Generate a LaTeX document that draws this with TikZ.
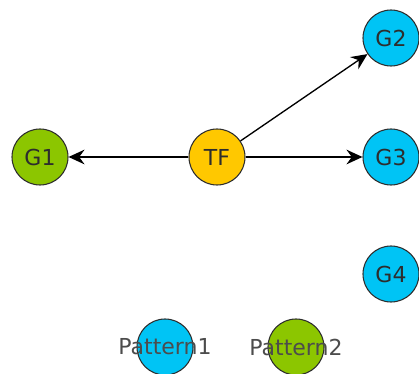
\documentclass[tikz,border=0pt]{standalone}
\usepackage{fontspec}
\setmainfont{DejaVu Sans}
\definecolor{leafgreen}{RGB}{140,198,0}
\definecolor{skycyan}{RGB}{0,196,245}
\definecolor{sunyellow}{RGB}{255,200,0}
\definecolor{rimgray}{RGB}{45,45,45}
\usetikzlibrary{
    arrows.meta,
    positioning
}
\tikzstyle{state} = [
    circle,
    draw=rimgray,
    line width=0.8pt,
    minimum size=42pt,
    inner sep=0pt,
    text=rimgray,
    font=\fontsize{16.5}{19}\selectfont
]
\tikzstyle{arrow} = [
    -{Stealth[length=12pt,width=11pt,inset=4pt]},
    line width=1pt,
    draw=black
]

\begin{document}
\begin{tikzpicture}[x=0.75pt, y=-0.75pt, node distance=130.5pt, on grid]
    \useasboundingbox (0,0) rectangle (419,374);

    % Centre and targets
    \node[state, fill=sunyellow] (tf) at (217,157) {TF};
    \node[state, fill=leafgreen, left=132.75pt of tf] (g1) {G1};
    \node[state, fill=skycyan, right=of tf] (g3) {G3};
    \node[state, fill=skycyan, above=89.25pt of g3] (g2) {G2};
    \node[state, fill=skycyan, below=87.75pt of g3] (g4) {G4};

    % Legend
    \node[state, fill=skycyan, label={[font=\fontsize{16.5}{19}\selectfont, text=rimgray!85]center:Pattern1}] (pattern1) at (165,347) {};
    \node[state, fill=leafgreen, right=98.25pt of pattern1, label={[font=\fontsize{16.5}{19}\selectfont, text=rimgray!85]center:Pattern2}] (pattern2) {};

    % Arrows
    \draw[arrow] (tf) -- (g1);
    \draw[arrow] (tf) -- (g2);
    \draw[arrow] (tf) -- (g3);
\end{tikzpicture}
\end{document}
